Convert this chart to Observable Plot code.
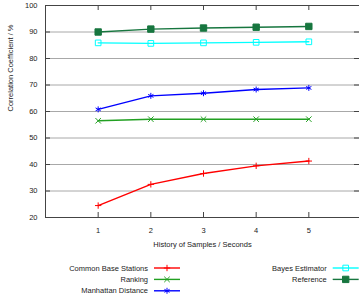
<!DOCTYPE html>
<html><head><meta charset="utf-8">
<script src="https://cdn.jsdelivr.net/npm/d3@7"></script>
<script src="https://cdn.jsdelivr.net/npm/@observablehq/plot@0.6"></script>
<style>body{margin:0;background:#fff;} svg{display:block;}</style>
</head><body><div id="chart"></div>
<script>
const samples = [1, 2, 3, 4, 5];
const seriesNames = ["Common Base Stations", "Ranking", "Manhattan Distance", "Bayes Estimator", "Reference"];
const commonBase = [24.5, 32.5, 36.6, 39.5, 41.3];
const ranking = [56.5, 57.1, 57.1, 57.1, 57.1];
const manhattan = [60.8, 65.9, 66.9, 68.3, 68.9];
const bayes = [85.9, 85.7, 85.9, 86.1, 86.3];
const reference = [90.0, 91.1, 91.5, 91.8, 92.1];
const yTicks = [20, 30, 40, 50, 60, 70, 80, 90, 100];
const gridTicks = [30, 40, 50, 60, 70, 80, 90];
const xTicks = [1, 2, 3, 4, 5];
const xLabel = "History of Samples / Seconds";
const yLabel = "Correlation Coefficient / %";

const seriesValues = [commonBase, ranking, manhattan, bayes, reference];
const colors = ["#ff0000", "#22a022", "#0000ff", "#00ffff", "#17763f"];
const symbols = ["plus", "times", "asterisk", "square2", "square"];
const radii = [2.2, 2.6, 2.8, 3.6, 3.6];
const filled = [false, false, false, false, true];

const W = 359, H = 301, mL = 45, mR = 0, mT = 5, mB = 84;
const plotW = W - mL - mR, plotH = H - mT - mB;
const font = "'Liberation Sans', Arial, sans-serif";

const marks = [
  Plot.ruleY(gridTicks, {stroke: "#a8a8a8", strokeWidth: 1}),
  Plot.tickY(yTicks, {y: d => d, stroke: "#444", insetRight: plotW - 5}),
  Plot.tickY(yTicks, {y: d => d, stroke: "#444", insetLeft: plotW - 5}),
  Plot.tickX(xTicks, {x: d => d, stroke: "#444", insetBottom: plotH - 5}),
  Plot.tickX(xTicks, {x: d => d, stroke: "#444", insetTop: plotH - 5}),
  Plot.ruleY([100], {stroke: "#444"}),
  Plot.ruleY([20], {stroke: "#444"}),
  Plot.ruleX([0], {stroke: "#444"}),
  Plot.axisY({ticks: yTicks, tickSize: 0, tickPadding: 8, fontSize: 7.5, fill: "#222", label: null}),
  Plot.axisX({ticks: xTicks, tickSize: 0, tickPadding: 10, fontSize: 7.5, fill: "#222", label: null, tickFormat: d3.format("d")}),
  Plot.text([xLabel], {frameAnchor: "bottom", dy: 29, fontSize: 7.5, fill: "#222"}),
  Plot.text([yLabel], {frameAnchor: "left", rotate: -90, dx: -35, fontSize: 7.5, fill: "#222"})
];

seriesValues.forEach((vals, i) => {
  const data = samples.map((s, j) => ({x: s, y: vals[j]}));
  marks.push(Plot.line(data, {x: "x", y: "y", stroke: colors[i], strokeWidth: 1.4}));
  marks.push(Plot.dot(data, {
    x: "x", y: "y", symbol: () => symbols[i], r: radii[i],
    stroke: colors[i], strokeWidth: 1,
    fill: filled[i] ? colors[i] : "none"
  }));
});

const chart = Plot.plot({
  width: W, height: H,
  marginLeft: mL, marginRight: mR, marginTop: mT, marginBottom: mB,
  style: {fontFamily: font, background: "#fff"},
  x: {domain: [0, 6], range: [mL, 361], axis: null},
  y: {domain: [20, 100], axis: null},
  symbol: {type: "identity"},
  marks
});

// legend
const svg = d3.select(chart);
const lg = svg.append("g").attr("font-family", font).attr("font-size", 7.5).attr("fill", "#222");
const symMap = {plus: d3.symbolPlus, times: d3.symbolTimes, asterisk: d3.symbolAsterisk, square2: d3.symbolSquare2, square: d3.symbolSquare};
seriesNames.forEach((name, i) => {
  const col = Math.floor(i / 3), row = i % 3;
  const xEnd = 148 + col * 178.7;
  const yy = 268 + row * 11.4;
  lg.append("text").attr("x", xEnd).attr("y", yy).attr("dy", "0.35em").attr("text-anchor", "end").text(name);
  lg.append("line").attr("x1", xEnd + 6).attr("x2", xEnd + 32).attr("y1", yy).attr("y2", yy)
    .attr("stroke", colors[i]).attr("stroke-width", 1.4);
  lg.append("path").attr("transform", `translate(${xEnd + 19},${yy})`)
    .attr("d", d3.symbol(symMap[symbols[i]], radii[i] * radii[i] * Math.PI)())
    .attr("stroke", colors[i]).attr("stroke-width", 1)
    .attr("fill", filled[i] ? colors[i] : "none");
});

document.getElementById("chart").append(chart);
</script>
</body></html>
